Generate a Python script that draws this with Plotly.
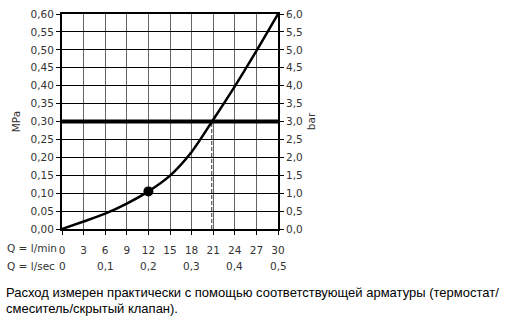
import plotly.graph_objects as go

# ---- data ----
q_lmin = [0, 3, 6, 9, 12, 15, 18, 21, 24, 27, 30]
p_mpa = [0, 0.021, 0.043, 0.071, 0.105, 0.149, 0.215, 0.305, 0.398, 0.497, 0.600]
dot_q = [12]
dot_p = [0.105]
work_p = 0.30
work_q = 20.8

mpa_ticks = [0, 0.05, 0.10, 0.15, 0.20, 0.25, 0.30, 0.35, 0.40, 0.45, 0.50, 0.55, 0.60]
mpa_labels = ["0,00", "0,05", "0,10", "0,15", "0,20", "0,25", "0,30", "0,35", "0,40", "0,45", "0,50", "0,55", "0,60"]
bar_ticks = [0, 0.5, 1.0, 1.5, 2.0, 2.5, 3.0, 3.5, 4.0, 4.5, 5.0, 5.5, 6.0]
bar_labels = ["0,0", "0,5", "1,0", "1,5", "2,0", "2,5", "3,0", "3,5", "4,0", "4,5", "5,0", "5,5", "6,0"]
lmin_ticks = [0, 3, 6, 9, 12, 15, 18, 21, 24, 27, 30]
lsec_vals = [0, 0.1, 0.2, 0.3, 0.4, 0.5]
lsec_labels = ["0", "0,1", "0,2", "0,3", "0,4", "0,5"]
caption1 = "Расход измерен практически с помощью соответствующей арматуры (термостат/"
caption2 = "смеситель/скрытый клапан)."

W, H = 508, 318
L, R, T, B = 62, 230, 8, 89
pw, ph = W - L - R, H - T - B

def px_x(px):
    return (px - L) / pw

def px_y(py):
    return (H - B - py) / ph

tick_font = dict(family="DejaVu Sans", size=10.5, color="#333333")

fig = go.Figure()

# thick working-pressure line
fig.add_trace(go.Scatter(x=[0, 30], y=[work_p, work_p], mode="lines",
                         line=dict(color="black", width=4), hoverinfo="skip"))
# dashed drop line
fig.add_trace(go.Scatter(x=[work_q, work_q], y=[0, work_p], mode="lines",
                         line=dict(color="#333333", width=1, dash="4px,2px"), hoverinfo="skip"))
# curve
fig.add_trace(go.Scatter(x=q_lmin, y=p_mpa, mode="lines",
                         line=dict(color="black", width=2.5, shape="spline", smoothing=0.8)))
# dot
fig.add_trace(go.Scatter(x=dot_q, y=dot_p, mode="markers",
                         marker=dict(color="black", size=10)))
# invisible trace for right axis
fig.add_trace(go.Scatter(x=[0, 30], y=[0, 6], yaxis="y2", mode="lines",
                         line=dict(width=0), opacity=0, hoverinfo="skip"))

annotations = []
for v, t in zip(lsec_vals, lsec_labels):
    annotations.append(dict(x=v * 60, y=px_y(267), xref="x", yref="paper", text=t,
                            showarrow=False, font=tick_font, xanchor="center", yanchor="middle"))
annotations.append(dict(x=px_x(5), y=px_y(249), xref="paper", yref="paper", text="Q = l/min",
                        showarrow=False, font=tick_font, xanchor="left", yanchor="middle"))
annotations.append(dict(x=px_x(5), y=px_y(267), xref="paper", yref="paper", text="Q = l/sec",
                        showarrow=False, font=tick_font, xanchor="left", yanchor="middle"))
cap_font = dict(family="Liberation Sans", size=13, color="black")
annotations.append(dict(x=px_x(4), y=px_y(294), xref="paper", yref="paper", text=caption1,
                        showarrow=False, font=cap_font, xanchor="left", yanchor="middle"))
annotations.append(dict(x=px_x(4), y=px_y(311), xref="paper", yref="paper", text=caption2,
                        showarrow=False, font=cap_font, xanchor="left", yanchor="middle"))

fig.update_layout(
    width=W, height=H,
    margin=dict(l=L, r=R, t=T, b=B, pad=0),
    paper_bgcolor="white", plot_bgcolor="white",
    showlegend=False,
    xaxis=dict(range=[0, 30], tickvals=lmin_ticks, ticktext=[str(v) for v in lmin_ticks],
               ticks="outside", ticklen=4, tickcolor="black", tickwidth=1,
               showline=True, linecolor="black", linewidth=2, mirror=True,
               showgrid=True, gridcolor="#666666", gridwidth=1, zeroline=False,
               tickfont=tick_font, ticklabelstandoff=6, fixedrange=True),
    yaxis=dict(range=[0, 0.6], tickvals=mpa_ticks, ticktext=mpa_labels,
               ticks="outside", ticklen=4, tickcolor="black", tickwidth=1,
               showline=True, linecolor="black", linewidth=2,
               showgrid=True, gridcolor="black", gridwidth=1, zeroline=False,
               tickfont=tick_font,
               title=dict(text="MPa", font=tick_font, standoff=8)),
    yaxis2=dict(range=[0, 6], tickvals=bar_ticks, ticktext=bar_labels, overlaying="y", side="right",
                ticks="outside", ticklen=4, tickcolor="black", tickwidth=1,
                showline=True, linecolor="black", linewidth=2,
                showgrid=False, zeroline=False, tickfont=tick_font,
                title=dict(text="bar", font=tick_font, standoff=6)),
    annotations=annotations,
)

fig.write_html("out.html")
